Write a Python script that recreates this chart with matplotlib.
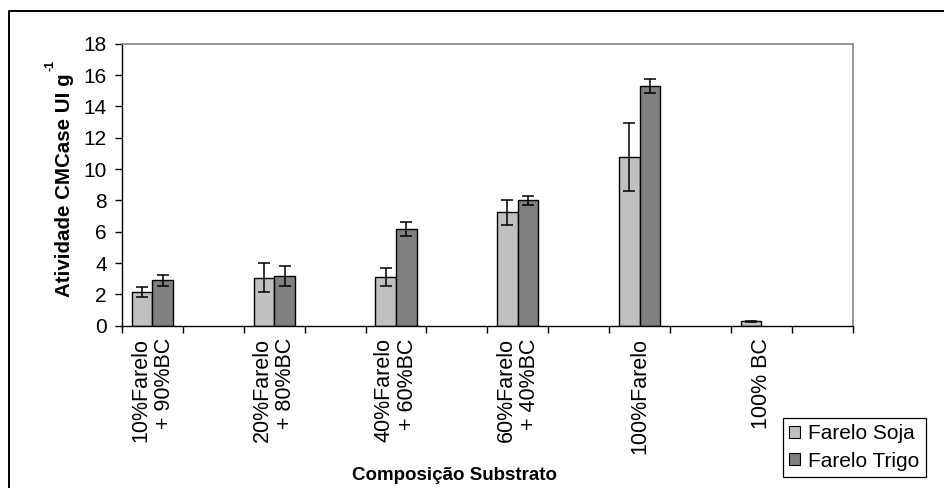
import numpy as np
import matplotlib
matplotlib.use("Agg")
import matplotlib.pyplot as plt
from matplotlib.lines import Line2D
from matplotlib.patches import Patch

plt.rcParams['font.family'] = ['Liberation Sans', 'DejaVu Sans']

categories = ["10%Farelo\n+ 90%BC", "20%Farelo\n+ 80%BC", "40%Farelo\n+ 60%BC",
              "60%Farelo\n+ 40%BC", "100%Farelo", "100% BC"]
soja = [2.15, 3.05, 3.1, 7.23, 10.75, 0.28]
soja_err = [0.30, 0.93, 0.59, 0.78, 2.16, 0.03]
trigo = [2.9, 3.15, 6.18, 8.0, 15.3, np.nan]
trigo_err = [0.35, 0.64, 0.44, 0.30, 0.45, np.nan]
yticks = [0, 2, 4, 6, 8, 10, 12, 14, 16, 18]

W, H = 944, 488
fig = plt.figure(figsize=(W / 100, H / 100), dpi=100)
ax = fig.add_axes([122 / W, 1 - 325.7 / H, (852.7 - 122) / W, (325.7 - 43.7) / H])

pos = np.arange(len(categories)) * 2
bw = 0.34
ax.bar(pos - bw / 2, soja, bw, color='#C0C0C0', edgecolor='black', linewidth=1.0, zorder=2)
ax.bar(pos + bw / 2, trigo, bw, color='#808080', edgecolor='black', linewidth=1.0, zorder=2)
ax.errorbar(pos - bw / 2, soja, yerr=soja_err, fmt='none', ecolor='black',
            elinewidth=1.1, capsize=4.3, capthick=1.1, zorder=3)
ax.errorbar(pos + bw / 2, trigo, yerr=trigo_err, fmt='none', ecolor='black',
            elinewidth=1.1, capsize=4.3, capthick=1.1, zorder=3)

n_slots = 2 * len(categories)
ax.set_xlim(-0.5, n_slots - 0.5)
ax.set_ylim(0, 18)
ax.set_yticks(yticks)
ax.set_yticklabels([str(v) for v in yticks], fontsize=15)
ax.set_xticks(np.arange(-0.5, n_slots, 1.0))
ax.set_xticklabels([])
ax.set_xticks(pos, minor=True)
ax.set_xticklabels(categories, minor=True, rotation=90, fontsize=15.5,
                   ha='center', va='top', multialignment='right', linespacing=1.15)
ax.tick_params(axis='x', which='minor', length=0, pad=9)
ax.tick_params(axis='x', which='major', length=5, width=1, direction='out')
ax.tick_params(axis='y', length=5, width=1, direction='out', pad=6)

for s in ['top', 'right']:
    ax.spines[s].set_color('#909090')
    ax.spines[s].set_linewidth(1.3)
for s in ['left', 'bottom']:
    ax.spines[s].set_color('black')
    ax.spines[s].set_linewidth(1.0)

fig.text(64 / W, 1 - 297 / H, 'Atividade CMCase UI g', rotation=90,
         fontsize=14.8, fontweight='bold', ha='center', va='bottom')
fig.text(51 / W, 1 - 65 / H, '-1', rotation=90,
         fontsize=9, fontweight='bold', ha='center', va='center')
fig.text(454 / W, 1 - 476 / H, 'Composição Substrato', fontsize=13.5,
         fontweight='bold', ha='center', va='center')

handles = [Patch(facecolor='#C0C0C0', edgecolor='black', linewidth=0.8),
           Patch(facecolor='#808080', edgecolor='black', linewidth=0.8)]
leg = fig.legend(handles, ['Farelo Soja', 'Farelo Trigo'], loc='upper left',
                 bbox_to_anchor=(783 / W, 1 - 418 / H), bbox_transform=fig.transFigure,
                 borderaxespad=0, fancybox=False, shadow=False, fontsize=15,
                 handlelength=0.5, handleheight=0.5, handletextpad=0.4,
                 labelspacing=0.4, borderpad=0.3, framealpha=1)
leg.get_frame().set_edgecolor('black')
leg.get_frame().set_linewidth(0.9)

fig.add_artist(Line2D([9 / W, 9 / W, 1.0], [0.0, 1 - 11 / H, 1 - 11 / H],
                      transform=fig.transFigure, color='black', linewidth=1.4))

fig.savefig('out.png', dpi=100)
